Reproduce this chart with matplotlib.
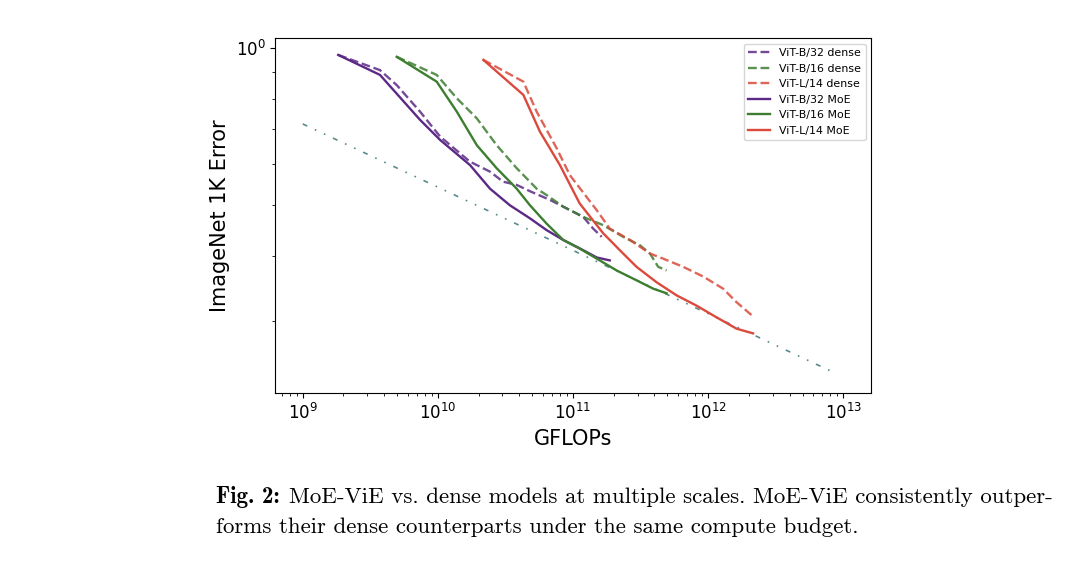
import matplotlib.pyplot as plt
import numpy as np
from matplotlib.ticker import NullFormatter

# ---- data (GFLOPs, ImageNet 1K error) ----
b32_dense_x = [1.83e9, 3.73e9, 4.96e9, 7.38e9, 1.04e10, 1.73e10, 2.43e10, 3.03e10,
               3.83e10, 4.80e10, 6.75e10, 8.98e10, 1.19e11, 1.41e11, 1.63e11]
b32_dense_y = [0.971, 0.908, 0.850, 0.756, 0.677, 0.606, 0.580, 0.555,
               0.547, 0.532, 0.512, 0.493, 0.475, 0.451, 0.435]

b16_dense_x = [4.96e9, 9.80e9, 1.38e10, 1.94e10, 2.72e10, 3.83e10, 5.38e10, 6.38e10,
               8.46e10, 1.19e11, 1.67e11, 2.35e11, 3.13e11, 3.71e11, 4.27e11, 4.92e11]
b16_dense_y = [0.963, 0.889, 0.802, 0.734, 0.652, 0.589, 0.538, 0.523,
               0.497, 0.475, 0.458, 0.435, 0.419, 0.404, 0.381, 0.375]

l14_dense_x = [2.17e10, 4.29e10, 5.38e10, 7.57e10, 9.48e10, 1.50e11, 1.87e11, 2.64e11,
               3.71e11, 4.65e11, 6.53e11, 9.19e11, 1.29e12, 1.62e12, 2.09e12]
l14_dense_y = [0.950, 0.863, 0.756, 0.643, 0.571, 0.489, 0.451, 0.429,
               0.404, 0.395, 0.381, 0.365, 0.346, 0.326, 0.308]

b32_moe_x = [1.83e9, 3.73e9, 7.38e9, 1.04e10, 1.73e10, 2.43e10, 3.41e10, 4.80e10,
             6.38e10, 8.46e10, 1.19e11, 1.50e11, 1.87e11]
b32_moe_y = [0.971, 0.889, 0.729, 0.667, 0.597, 0.538, 0.500, 0.472,
             0.448, 0.429, 0.410, 0.397, 0.392]

b16_moe_x = [4.96e9, 9.80e9, 1.38e10, 1.94e10, 2.72e10, 3.83e10, 4.80e10, 6.38e10,
             8.46e10, 1.12e11, 1.50e11, 2.10e11, 2.95e11, 3.92e11, 4.92e11]
b16_moe_y = [0.963, 0.863, 0.756, 0.652, 0.589, 0.538, 0.500, 0.461,
             0.429, 0.413, 0.395, 0.375, 0.359, 0.346, 0.339]

l14_moe_x = [2.17e10, 4.29e10, 5.69e10, 8.00e10, 1.12e11, 1.67e11, 2.22e11, 2.95e11,
             4.15e11, 5.83e11, 8.20e11, 1.15e12, 1.62e12, 2.15e12]
l14_moe_y = [0.950, 0.814, 0.692, 0.597, 0.504, 0.442, 0.410, 0.381,
             0.356, 0.336, 0.321, 0.305, 0.290, 0.284]

trend_x = [1e9, 8.8e12]
trend_y = [0.716, 0.238]

purple = '#5c2a86'
green = '#3d7e30'
red = '#db4a3c'

fig = plt.figure(figsize=(10.8, 5.69), dpi=100)
ax = fig.add_axes([0.2549, 0.3088, 0.5516, 0.6239])

ax.plot(trend_x, trend_y, color='#5a8a8c', lw=1.2, linestyle=(0, (3, 5, 1, 5, 1, 5)))

ax.plot(b32_dense_x, b32_dense_y, '--', color=purple, lw=1.7, alpha=0.85, label='ViT-B/32 dense')
ax.plot(b16_dense_x, b16_dense_y, '--', color=green, lw=1.7, alpha=0.85, label='ViT-B/16 dense')
ax.plot(l14_dense_x, l14_dense_y, '--', color=red, lw=1.7, alpha=0.85, label='ViT-L/14 dense')
ax.plot(b32_moe_x, b32_moe_y, '-', color=purple, lw=1.7, label='ViT-B/32 MoE')
ax.plot(b16_moe_x, b16_moe_y, '-', color=green, lw=1.7, label='ViT-B/16 MoE')
ax.plot(l14_moe_x, l14_moe_y, '-', color=red, lw=1.7, label='ViT-L/14 MoE')

ax.set_xscale('log')
ax.set_yscale('log')
ax.set_xlim(10**8.797, 10**13.205)
ax.set_ylim(0.218, 1.045)
ax.yaxis.set_minor_formatter(NullFormatter())
ax.tick_params(labelsize=12)

ax.set_xlabel('GFLOPs', fontsize=15)
ax.set_ylabel('ImageNet 1K Error', fontsize=15)
ax.legend(loc='upper right', fontsize=7.9)

# caption
fig.text(216 / 1080, 1 - 497 / 569, 'Fig. 2:', family='cmb10', fontsize=16.5, va='center')
fig.text(289 / 1080, 1 - 497 / 569,
         'MoE-ViE vs. dense models at multiple scales. MoE-ViE consistently outper-',
         family='cmr10', fontsize=16.5, va='center')
fig.text(216 / 1080, 1 - 527 / 569,
         'forms their dense counterparts under the same compute budget.',
         family='cmr10', fontsize=16.5, va='center')

fig.savefig('out.png', dpi=100)
